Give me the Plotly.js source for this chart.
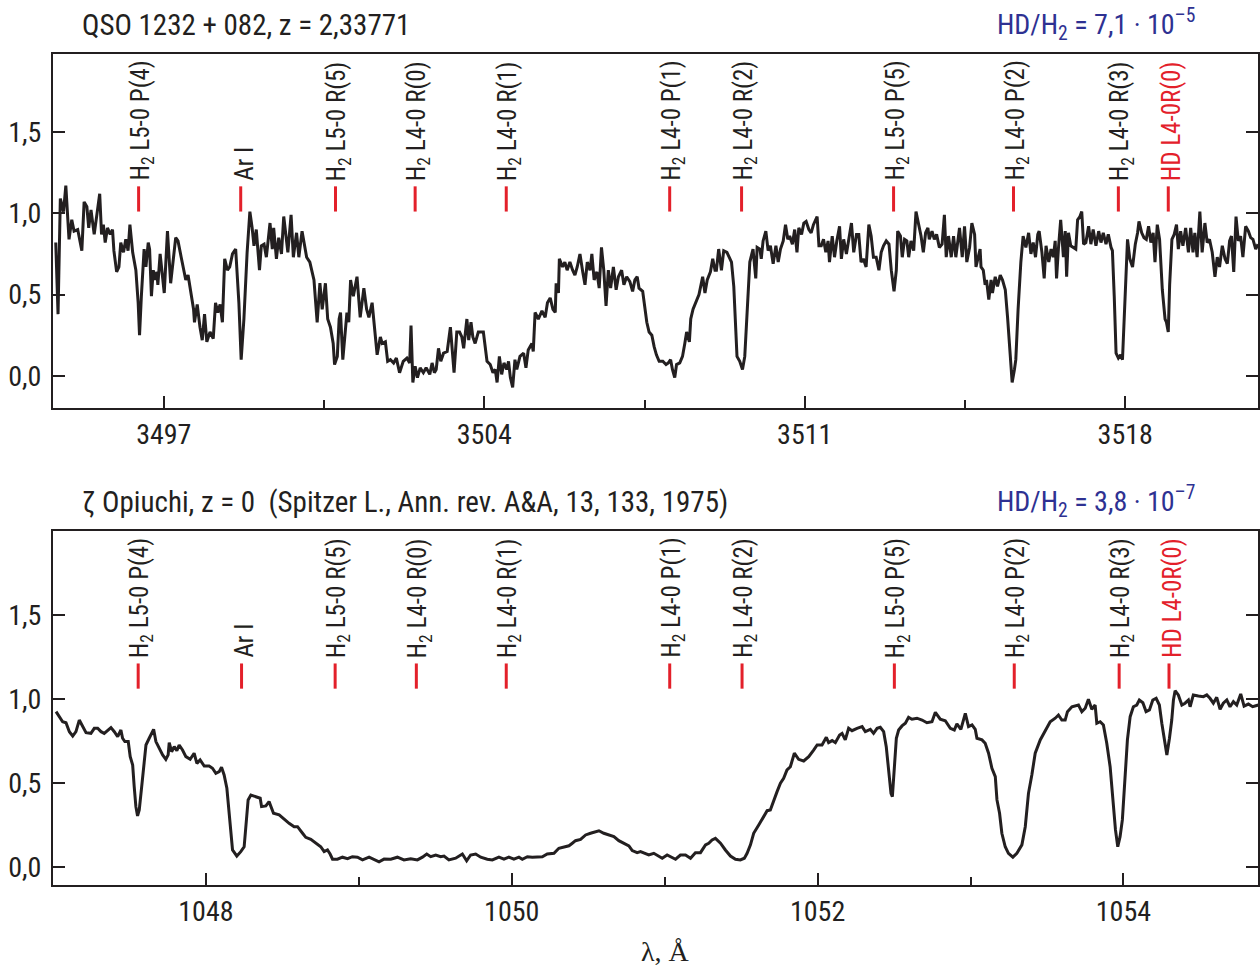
<!DOCTYPE html>
<html>
<head>
<meta charset="utf-8">
<script src="https://cdn.plot.ly/plotly-3.0.1.min.js"></script>
<style>html,body{margin:0;padding:0;background:#fff;}#chart{width:1260px;height:966px;}</style>
</head>
<body>
<div id="chart"></div>
<script>
// ---------- DATA ----------
const topWave = [
3494.64,3494.69,3494.74,3494.81,3494.86,3494.93,3494.99,3495.04,3495.12,3495.21,
3495.26,3495.32,3495.36,3495.41,3495.48,3495.52,3495.60,3495.64,3495.68,3495.72,
3495.77,3495.83,3495.88,3495.91,3495.97,3496.02,3496.06,3496.12,3496.17,3496.22,
3496.26,3496.32,3496.39,3496.44,3496.47,3496.51,3496.57,3496.61,3496.66,3496.69,
3496.73,3496.77,3496.81,3496.85,3496.87,3496.92,3496.97,3497.01,3497.08,3497.15,
3497.26,3497.31,3497.38,3497.48,3497.53,3497.57,3497.65,3497.67,3497.73,3497.79,
3497.84,3497.89,3497.94,3498.01,3498.08,3498.13,3498.18,3498.23,3498.28,3498.33,
3498.39,3498.44,3498.50,3498.57,3498.64,3498.69,3498.75,3498.82,3498.88,3498.93,
3498.97,3499.02,3499.09,3499.13,3499.19,3499.24,3499.32,3499.37,3499.40,3499.46,
3499.51,3499.57,3499.62,3499.71,3499.78,3499.83,3499.90,3499.95,3500.02,3500.12,
3500.19,3500.28,3500.35,3500.41,3500.46,3500.53,3500.58,3500.64,3500.70,3500.73,
3500.79,3500.83,3500.86,3500.91,3500.97,3501.00,3501.04,3501.08,3501.14,3501.22,
3501.29,3501.37,3501.43,3501.48,3501.55,3501.60,3501.66,3501.73,3501.77,3501.84,
3501.89,3501.95,3502.02,3502.08,3502.15,3502.23,3502.31,3502.37,3502.40,3502.44,
3502.49,3502.54,3502.60,3502.67,3502.73,3502.81,3502.86,3502.91,3502.95,3503.00,
3503.05,3503.11,3503.19,3503.26,3503.29,3503.34,3503.40,3503.46,3503.51,3503.55,
3503.62,3503.66,3503.71,3503.75,3503.80,3503.87,3503.98,3504.06,3504.13,3504.19,
3504.24,3504.28,3504.33,3504.38,3504.43,3504.49,3504.53,3504.57,3504.62,3504.67,
3504.71,3504.78,3504.86,3504.91,3504.96,3505.04,3505.07,3505.11,3505.18,3505.26,
3505.33,3505.38,3505.44,3505.50,3505.55,3505.57,3505.62,3505.64,3505.71,3505.76,
3505.81,3505.87,3505.93,3505.98,3506.03,3506.09,3506.15,3506.20,3506.25,3506.31,
3506.35,3506.40,3506.46,3506.51,3506.56,3506.61,3506.66,3506.71,3506.76,3506.82,
3506.88,3506.93,3507.00,3507.05,3507.11,3507.18,3507.24,3507.29,3507.34,3507.38,
3507.46,3507.51,3507.55,3507.60,3507.66,3507.71,3507.76,3507.82,3507.90,3507.97,
3508.02,3508.07,3508.11,3508.16,3508.20,3508.27,3508.33,3508.38,3508.42,3508.48,
3508.51,3508.56,3508.62,3508.69,3508.77,3508.82,3508.87,3508.94,3508.99,3509.04,
3509.07,3509.12,3509.18,3509.23,3509.30,3509.40,3509.45,3509.49,3509.52,3509.58,
3509.64,3509.69,3509.74,3509.80,3509.87,3509.93,3509.96,3510.02,3510.05,3510.09,
3510.15,3510.20,3510.25,3510.31,3510.37,3510.42,3510.47,3510.53,3510.58,3510.63,
3510.67,3510.73,3510.78,3510.83,3510.87,3510.93,3510.98,3511.03,3511.09,3511.14,
3511.19,3511.27,3511.31,3511.36,3511.41,3511.46,3511.51,3511.54,3511.60,3511.65,
3511.70,3511.76,3511.80,3511.85,3511.91,3511.96,3512.02,3512.07,3512.13,3512.18,
3512.23,3512.28,3512.34,3512.40,3512.45,3512.50,3512.56,3512.62,3512.67,3512.72,
3512.78,3512.84,3512.89,3512.95,3513.00,3513.03,3513.09,3513.13,3513.18,3513.23,
3513.27,3513.32,3513.38,3513.43,3513.49,3513.54,3513.59,3513.64,3513.69,3513.72,
3513.78,3513.83,3513.88,3513.94,3514.00,3514.05,3514.09,3514.14,3514.20,3514.25,
3514.30,
3514.38,3514.44,3514.49,3514.54,3514.60,3514.65,3514.71,3514.74,3514.80,3514.83,
3514.85,3514.90,3514.94,3514.97,3515.02,3515.07,3515.10,3515.16,3515.21,3515.27,
3515.32,3515.38,3515.43,3515.48,3515.53,3515.58,3515.61,3515.66,3515.72,3515.77,
3515.83,3515.89,3515.94,3515.99,3516.04,3516.09,3516.12,3516.18,3516.23,3516.27,
3516.33,3516.38,3516.43,3516.47,3516.50,3516.54,3516.59,3516.65,3516.69,3516.72,
3516.76,3516.81,3516.86,3516.92,3516.96,3517.01,3517.05,3517.09,3517.14,3517.20,
3517.25,3517.30,3517.36,3517.42,3517.47,3517.52,3517.58,3517.63,3517.69,3517.72,
3517.76,3517.80,3517.85,3517.90,3517.94,3518.00,3518.05,3518.10,3518.16,3518.22,
3518.27,3518.30,3518.36,3518.41,3518.46,3518.51,3518.56,3518.61,3518.65,3518.70,
3518.75,3518.81,3518.87,3518.90,3518.94,3518.97,3519.02,3519.07,3519.12,3519.16,
3519.21,3519.26,3519.32,3519.38,3519.43,3519.48,3519.52,3519.57,3519.63,3519.68,
3519.74,3519.79,3519.84,3519.90,3519.96,3520.01,3520.06,3520.12,3520.18,3520.23,
3520.28,3520.32,3520.37,3520.42,3520.47,3520.52,3520.57,3520.63,3520.69,3520.74,
3520.79,3520.85,3520.90
];
const topFlux = [
0.82,0.38,1.09,1.01,1.17,0.84,0.96,0.89,0.90,0.77,
1.07,1.04,0.91,1.02,0.87,0.95,1.12,0.87,0.93,0.82,
0.91,0.87,0.90,0.77,0.64,0.67,0.82,0.76,0.84,0.77,
0.93,0.76,0.65,0.45,0.25,0.49,0.78,0.67,0.82,0.78,
0.49,0.65,0.59,0.64,0.56,0.75,0.59,0.51,0.89,0.57,
0.85,0.83,0.73,0.59,0.62,0.55,0.41,0.33,0.44,0.30,
0.22,0.38,0.21,0.27,0.23,0.45,0.39,0.44,0.33,0.72,
0.65,0.67,0.75,0.78,0.45,0.10,0.35,0.76,1.01,0.91,
0.80,0.90,0.65,0.80,0.81,0.73,0.94,0.78,0.91,0.72,
0.85,0.75,0.98,0.76,0.99,0.73,0.88,0.73,0.89,0.73,
0.70,0.59,0.33,0.57,0.41,0.57,0.35,0.30,0.20,0.07,
0.12,0.35,0.39,0.10,0.30,0.39,0.33,0.59,0.49,0.61,
0.36,0.54,0.41,0.36,0.45,0.30,0.13,0.24,0.20,0.21,
0.09,0.10,0.08,0.11,0.02,0.09,0.11,0.08,0.31,-0.04,
0.06,-0.01,0.05,0.02,0.05,0.01,0.08,0.02,0.04,0.17,
0.09,0.14,0.15,0.30,0.20,0.02,0.27,0.27,0.24,0.17,
0.35,0.22,0.33,0.24,0.20,0.27,0.27,0.09,0.07,0.02,
0.04,-0.04,0.12,0.01,0.08,0.04,0.09,-0.01,-0.07,0.10,
0.04,0.12,0.14,0.05,0.16,0.20,0.15,0.39,0.35,0.40,
0.36,0.45,0.48,0.41,0.39,0.57,0.51,0.72,0.67,0.70,
0.65,0.70,0.65,0.62,0.67,0.75,0.64,0.56,0.70,0.65,
0.75,0.59,0.64,0.54,0.79,0.65,0.43,0.65,0.54,0.67,
0.53,0.61,0.65,0.56,0.61,0.58,0.52,0.59,0.61,0.54,
0.52,0.41,0.33,0.27,0.25,0.18,0.13,0.09,0.09,0.07,
0.08,0.10,0.04,-0.01,0.07,0.08,0.12,0.20,0.27,0.21,
0.35,0.41,0.45,0.50,0.61,0.51,0.59,0.64,0.72,0.65,
0.65,0.78,0.65,0.77,0.76,0.70,0.55,0.30,0.12,0.09,
0.04,0.12,0.41,0.70,0.78,0.60,0.79,0.78,0.72,0.83,
0.89,0.77,0.80,0.69,0.80,0.70,0.78,0.83,0.93,0.84,
0.86,0.81,0.90,0.76,0.91,0.87,0.94,0.95,0.90,0.88,
0.93,0.98,0.80,0.80,0.84,0.76,0.83,0.70,0.86,0.73,
0.83,0.92,0.72,0.84,0.75,0.83,0.94,0.76,0.87,0.87,
0.70,0.72,0.67,0.93,0.86,0.73,0.73,0.65,0.76,0.80,
0.83,0.81,0.65,0.52,0.65,0.89,0.86,0.73,0.84,0.83,
0.73,0.83,0.77,1.01,0.93,0.86,0.76,0.88,0.91,0.84,
0.89,0.84,0.87,0.79,0.81,0.99,0.73,0.86,0.73,0.86,
0.73,
0.91,0.73,0.92,0.70,0.79,0.94,0.87,0.67,0.76,0.78,
0.67,0.65,0.56,0.59,0.47,0.59,0.51,0.61,0.55,0.62,
0.59,0.53,0.36,0.16,-0.04,0.04,0.10,0.41,0.70,0.86,
0.79,0.88,0.75,0.82,0.73,0.87,0.89,0.76,0.60,0.80,
0.70,0.78,0.73,0.83,0.60,0.78,0.96,0.73,0.89,0.61,
0.88,0.80,0.79,0.78,0.96,0.98,1.01,0.81,0.82,0.92,
0.81,0.90,0.80,0.89,0.82,0.88,0.81,0.87,0.79,0.77,
0.49,0.14,0.11,0.13,0.10,0.51,0.84,0.72,0.67,0.81,
0.88,0.95,0.88,0.85,0.84,0.92,0.82,0.88,0.70,0.93,
0.84,0.53,0.35,0.33,0.27,0.56,0.84,0.87,0.93,0.78,
0.89,0.80,0.91,0.76,0.91,0.76,0.88,0.73,1.01,0.76,
0.94,0.82,0.84,0.76,0.61,0.73,0.67,0.80,0.72,0.69,
0.83,0.86,0.64,0.98,0.83,0.86,0.73,0.92,0.89,0.85,
0.84,0.78,0.81
];

const botWave = [
1047.020,1047.041,1047.063,1047.085,1047.107,1047.129,1047.150,1047.172,1047.194,1047.216,
1047.248,1047.270,1047.292,1047.314,1047.335,1047.357,1047.379,1047.401,1047.423,1047.444,
1047.455,1047.470,1047.492,1047.505,1047.521,1047.531,1047.542,1047.553,1047.564,1047.580,
1047.593,1047.608,1047.629,1047.645,1047.658,1047.673,1047.695,1047.717,1047.738,1047.753,
1047.760,1047.776,1047.793,1047.810,1047.825,1047.847,1047.869,1047.897,1047.923,1047.941,
1047.962,1047.989,1048.021,1048.043,1048.065,1048.087,1048.102,1048.119,1048.137,1048.152,
1048.163,1048.174,1048.202,1048.228,1048.250,1048.261,1048.276,1048.294,1048.326,1048.355,
1048.364,1048.392,1048.413,1048.442,1048.479,1048.511,1048.544,1048.577,1048.599,1048.632,
1048.653,1048.686,1048.707,1048.730,1048.751,1048.773,1048.795,1048.812,1048.828,1048.860,
1048.893,1048.926,1048.958,1048.991,1049.024,1049.067,1049.099,1049.132,1049.165,1049.209,
1049.252,1049.295,1049.339,1049.383,1049.416,1049.444,1049.470,1049.503,1049.535,1049.557,
1049.589,1049.633,1049.677,1049.705,1049.731,1049.764,1049.797,1049.840,1049.873,1049.916,
1049.949,1049.981,1050.014,1050.047,1050.069,1050.102,1050.134,1050.167,1050.200,1050.232,
1050.276,1050.308,1050.341,1050.374,1050.396,1050.417,1050.450,1050.483,1050.515,1050.548,
1050.570,1050.602,1050.635,1050.668,1050.700,1050.733,1050.766,1050.788,1050.820,1050.842,
1050.875,1050.896,1050.929,1050.962,1050.984,1051.016,1051.038,1051.071,1051.103,1051.136,
1051.169,1051.201,1051.234,1051.267,1051.288,1051.310,1051.332,1051.365,1051.397,1051.430,
1051.463,1051.495,1051.521,1051.539,1051.561,1051.582,1051.615,1051.648,1051.670,1051.691,
1051.713,1051.735,1051.757,1051.778,1051.800,1051.822,1051.848,1051.876,1051.909,1051.942,
1051.974,1051.997,1052.029,1052.057,1052.072,1052.095,1052.116,1052.144,1052.160,1052.181,
1052.203,1052.225,1052.258,1052.291,1052.312,1052.345,1052.366,1052.389,1052.410,1052.432,
1052.449,1052.465,1052.480,1052.489,1052.502,1052.515,1052.530,1052.552,1052.574,1052.595,
1052.617,1052.650,1052.683,1052.715,1052.748,1052.770,1052.802,1052.835,1052.868,1052.894,
1052.911,1052.937,1052.966,1052.987,1053.010,1053.031,1053.042,1053.075,1053.096,1053.118,
1053.140,1053.162,1053.173,1053.190,1053.205,1053.227,1053.248,1053.277,1053.303,1053.336,
1053.358,1053.379,1053.401,1053.423,1053.456,1053.488,1053.521,1053.554,1053.575,1053.597,
1053.619,1053.634,1053.663,1053.706,1053.728,1053.750,1053.771,1053.793,1053.815,1053.826,
1053.848,1053.869,1053.891,1053.913,1053.931,1053.948,1053.963,1053.978,1053.993,1054.011,
1054.026,1054.044,1054.065,1054.087,1054.104,1054.127,1054.148,1054.170,1054.192,1054.214,
1054.235,1054.251,1054.268,1054.284,1054.301,1054.316,1054.327,1054.338,1054.359,1054.382,
1054.403,1054.425,1054.436,1054.457,1054.490,1054.523,1054.545,1054.566,1054.588,1054.610,
1054.632,1054.653,1054.676,1054.697,1054.719,1054.741,1054.767,1054.789,1054.817,1054.845,
1054.882
];
const botFlux = [
0.925,0.895,0.865,0.859,0.806,0.780,0.806,0.875,0.836,0.800,
0.796,0.826,0.826,0.806,0.796,0.816,0.830,0.806,0.776,0.816,
0.767,0.747,0.747,0.658,0.608,0.480,0.361,0.306,0.341,0.480,
0.618,0.727,0.767,0.800,0.820,0.747,0.707,0.668,0.642,0.668,
0.741,0.687,0.717,0.693,0.727,0.697,0.658,0.642,0.678,0.618,
0.638,0.602,0.602,0.589,0.559,0.569,0.595,0.549,0.470,0.302,
0.203,0.104,0.068,0.094,0.123,0.262,0.401,0.430,0.420,0.411,
0.361,0.365,0.391,0.322,0.312,0.286,0.262,0.242,0.242,0.203,
0.179,0.167,0.153,0.139,0.123,0.094,0.104,0.080,0.049,0.049,
0.061,0.052,0.064,0.061,0.045,0.061,0.050,0.034,0.050,0.049,
0.061,0.045,0.052,0.045,0.061,0.080,0.064,0.074,0.064,0.068,
0.045,0.055,0.080,0.040,0.074,0.080,0.061,0.049,0.045,0.061,
0.049,0.061,0.049,0.061,0.049,0.064,0.061,0.064,0.064,0.080,
0.084,0.114,0.123,0.129,0.144,0.159,0.167,0.193,0.203,0.212,
0.218,0.203,0.193,0.183,0.159,0.144,0.128,0.100,0.088,0.094,
0.084,0.074,0.084,0.068,0.055,0.074,0.064,0.049,0.074,0.074,
0.055,0.088,0.088,0.134,0.144,0.163,0.173,0.144,0.104,0.068,
0.049,0.045,0.055,0.084,0.134,0.203,0.252,0.302,0.337,0.341,
0.401,0.450,0.500,0.529,0.579,0.598,0.678,0.642,0.632,0.658,
0.697,0.727,0.727,0.773,0.741,0.753,0.741,0.786,0.796,0.757,
0.826,0.812,0.826,0.836,0.806,0.820,0.796,0.826,0.832,0.806,
0.717,0.559,0.440,0.420,0.579,0.767,0.816,0.840,0.856,0.891,
0.880,0.886,0.875,0.859,0.865,0.921,0.880,0.871,0.826,0.816,
0.852,0.820,0.915,0.836,0.846,0.820,0.767,0.757,0.737,0.678,
0.589,0.539,0.401,0.322,0.203,0.123,0.084,0.061,0.084,0.134,
0.242,0.440,0.549,0.678,0.757,0.806,0.865,0.886,0.905,0.875,
0.875,0.925,0.954,0.964,0.925,0.945,0.998,0.939,0.964,0.856,
0.865,0.846,0.737,0.598,0.381,0.223,0.123,0.183,0.282,0.519,
0.757,0.895,0.954,0.964,0.994,0.978,0.925,0.935,0.994,1.004,
0.964,0.856,0.767,0.668,0.767,0.875,0.994,1.049,1.024,0.964,
0.975,0.994,0.954,1.024,1.018,1.014,1.024,1.004,0.975,1.010,
0.939,0.975,0.994,0.954,0.984,0.964,1.030,0.958,0.970,0.954,
0.964
];

const lineLabels = [
  "H<sub>2</sub> L5-0 P(4)", "Ar I", "H<sub>2</sub> L5-0 R(5)", "H<sub>2</sub> L4-0 R(0)",
  "H<sub>2</sub> L4-0 R(1)", "H<sub>2</sub> L4-0 P(1)", "H<sub>2</sub> L4-0 R(2)",
  "H<sub>2</sub> L5-0 P(5)", "H<sub>2</sub> L4-0 P(2)", "H<sub>2</sub> L4-0 R(3)", "HD L4-0R(0)"
];
const topLineWave = [3496.45, 3498.68, 3500.75, 3502.49, 3504.48, 3508.05, 3509.62, 3512.94, 3515.56, 3517.85, 3518.94];
const botLineWave = [1047.557, 1048.233, 1048.845, 1049.376, 1049.964, 1051.033, 1051.506, 1052.502, 1053.286, 1053.972, 1054.298];

const yTickVals = [0, 0.5, 1.0, 1.5];
const yTickText = ["0,0", "0,5", "1,0", "1,5"];

const topTitle = "QSO 1232 + 082, z = 2,33771";
const topRatio = "HD/H<sub>2</sub> = 7,1 · 10<sup>–5</sup>";
const botTitle = "ζ Opiuchi, z = 0\u00A0 (Spitzer L., Ann. rev. A&amp;A, 13, 133, 1975)";
const botRatio = "HD/H<sub>2</sub> = 3,8 · 10<sup>–7</sup>";
const xTitle = "λ, Å";

// ---------- STYLE ----------
const F = '"Liberation Sans Narrow", "Arial Narrow", "Nimbus Sans Narrow", "Roboto Condensed", "Liberation Sans", sans-serif';
const INK = '#231f20';
const RED = '#e3202a';
const BLUE = '#2e3192';
const FS = 28;

const traces = [
  {x: topWave, y: topFlux, xaxis: 'x', yaxis: 'y', type: 'scatter', mode: 'lines',
   line: {color: INK, width: 3}, hoverinfo: 'skip'},
  {x: botWave, y: botFlux, xaxis: 'x2', yaxis: 'y2', type: 'scatter', mode: 'lines',
   line: {color: INK, width: 3}, hoverinfo: 'skip'},
  {x: topLineWave, y: topLineWave.map(() => 1.088), xaxis: 'x', yaxis: 'y', type: 'scatter', mode: 'markers',
   marker: {symbol: 'line-ns-open', size: 18, color: RED, line: {color: RED, width: 3}}, hoverinfo: 'skip'},
  {x: botLineWave, y: botLineWave.map(() => 1.136), xaxis: 'x2', yaxis: 'y2', type: 'scatter', mode: 'markers',
   marker: {symbol: 'line-ns-open', size: 18, color: RED, line: {color: RED, width: 3}}, hoverinfo: 'skip'}
];

function xAxis(range, tick0, dtick, minorDtick, anchor) {
  return {
    anchor: anchor, range: range, tick0: tick0, dtick: dtick, tickmode: 'linear',
    ticks: 'inside', ticklen: 12, tickwidth: 2, tickcolor: INK,
    minor: {dtick: minorDtick, tick0: tick0, ticks: 'inside', ticklen: 8, tickwidth: 2, tickcolor: INK, showgrid: false},
    showline: true, linewidth: 2, linecolor: INK, mirror: true,
    showgrid: false, zeroline: false, ticklabelstandoff: 0,
    tickfont: {family: F, size: FS, color: INK}
  };
}
function yAxis(domain, range, anchor) {
  return {
    anchor: anchor, domain: domain, range: range,
    tickmode: 'array', tickvals: yTickVals, ticktext: yTickText,
    ticks: 'inside', ticklen: 12, tickwidth: 2, tickcolor: INK,
    showline: true, linewidth: 2, linecolor: INK, mirror: 'ticks',
    showgrid: false, zeroline: false, ticklabelstandoff: 4,
    tickfont: {family: F, size: FS, color: INK}
  };
}

const annotations = [];
lineLabels.forEach((t, i) => {
  const col = t.indexOf('HD') === 0 ? RED : INK;
  annotations.push({x: topLineWave[i], y: 1.186, xref: 'x', yref: 'y', text: t, textangle: -90,
    showarrow: false, xanchor: 'center', yanchor: 'bottom', xshift: 3, font: {family: F, size: 25, color: col}});
  annotations.push({x: botLineWave[i], y: 1.231, xref: 'x2', yref: 'y2', text: t, textangle: -90,
    showarrow: false, xanchor: 'center', yanchor: 'bottom', xshift: 3, font: {family: F, size: 25, color: col}});
});
annotations.push({x: 0.0224, y: 1.0349, xref: 'paper', yref: 'paper', text: topTitle, showarrow: false,
  xanchor: 'left', yanchor: 'middle', font: {family: F, size: 29, color: INK}});
annotations.push({x: 0.9494, y: 1.0349, xref: 'paper', yref: 'paper', text: topRatio, showarrow: false,
  xanchor: 'right', yanchor: 'middle', font: {family: F, size: FS, color: BLUE}});
annotations.push({x: 0.0224, y: 0.4609, xref: 'paper', yref: 'paper', text: botTitle, showarrow: false,
  xanchor: 'left', yanchor: 'middle', font: {family: F, size: 29, color: INK}});
annotations.push({x: 0.9494, y: 0.4609, xref: 'paper', yref: 'paper', text: botRatio, showarrow: false,
  xanchor: 'right', yanchor: 'middle', font: {family: F, size: FS, color: BLUE}});
annotations.push({x: 0.508, y: -0.0806, xref: 'paper', yref: 'paper', text: xTitle, showarrow: false,
  xanchor: 'center', yanchor: 'middle', font: {family: '"Liberation Serif", "DejaVu Serif", serif', size: 28, color: INK}});

const layout = {
  width: 1260, height: 966,
  margin: {l: 53, r: 2, t: 54, b: 81},
  paper_bgcolor: '#ffffff', plot_bgcolor: '#ffffff',
  showlegend: false,
  font: {family: F, size: FS, color: INK},
  xaxis: xAxis([3494.58, 3520.9], 3497, 7, 3.5, 'y'),
  yaxis: yAxis([0.574, 1], [-0.197, 1.979], 'x'),
  xaxis2: xAxis([1047.0, 1054.88], 1048, 2, 1, 'y2'),
  yaxis2: yAxis([0, 0.426], [-0.104, 1.997], 'x2'),
  annotations: annotations
};

Plotly.newPlot('chart', traces, layout, {displayModeBar: false, staticPlot: true});
</script>
</body>
</html>
